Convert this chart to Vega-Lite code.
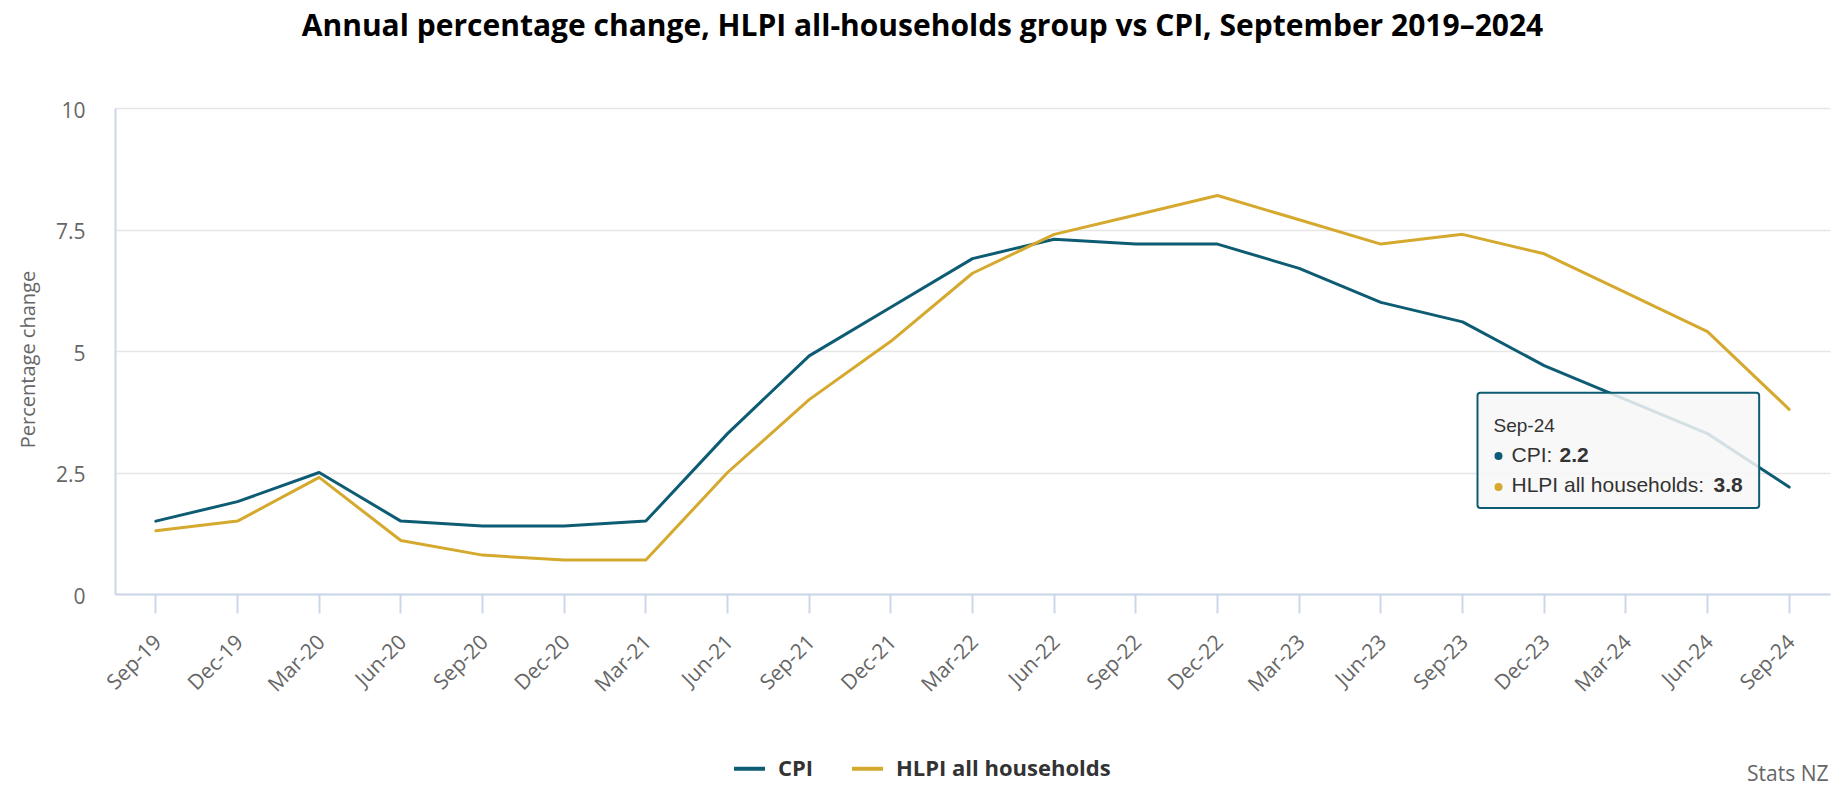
{
  "$schema": "https://vega.github.io/schema/vega-lite/v6.json",
  "autosize": {"type": "none"},
  "width": 1715,
  "height": 486,
  "padding": {"left": 115, "top": 108, "right": 16, "bottom": 196},
  "background": "white",
  "title": {
    "text": "Annual percentage change, HLPI all-households group vs CPI, September 2019–2024",
    "anchor": "middle",
    "frame": "group",
    "dx": -50,
    "offset": 58,
    "font": "Open Sans",
    "fontSize": 30,
    "fontWeight": "bold",
    "color": "#000000"
  },
  "datasets": {
    "series": [
      {"quarter": "Sep-19", "series": "CPI", "value": 1.5},
      {"quarter": "Dec-19", "series": "CPI", "value": 1.9},
      {"quarter": "Mar-20", "series": "CPI", "value": 2.5},
      {"quarter": "Jun-20", "series": "CPI", "value": 1.5},
      {"quarter": "Sep-20", "series": "CPI", "value": 1.4},
      {"quarter": "Dec-20", "series": "CPI", "value": 1.4},
      {"quarter": "Mar-21", "series": "CPI", "value": 1.5},
      {"quarter": "Jun-21", "series": "CPI", "value": 3.3},
      {"quarter": "Sep-21", "series": "CPI", "value": 4.9},
      {"quarter": "Dec-21", "series": "CPI", "value": 5.9},
      {"quarter": "Mar-22", "series": "CPI", "value": 6.9},
      {"quarter": "Jun-22", "series": "CPI", "value": 7.3},
      {"quarter": "Sep-22", "series": "CPI", "value": 7.2},
      {"quarter": "Dec-22", "series": "CPI", "value": 7.2},
      {"quarter": "Mar-23", "series": "CPI", "value": 6.7},
      {"quarter": "Jun-23", "series": "CPI", "value": 6.0},
      {"quarter": "Sep-23", "series": "CPI", "value": 5.6},
      {"quarter": "Dec-23", "series": "CPI", "value": 4.7},
      {"quarter": "Mar-24", "series": "CPI", "value": 4.0},
      {"quarter": "Jun-24", "series": "CPI", "value": 3.3},
      {"quarter": "Sep-24", "series": "CPI", "value": 2.2},
      {"quarter": "Sep-19", "series": "HLPI all households", "value": 1.3},
      {"quarter": "Dec-19", "series": "HLPI all households", "value": 1.5},
      {"quarter": "Mar-20", "series": "HLPI all households", "value": 2.4},
      {"quarter": "Jun-20", "series": "HLPI all households", "value": 1.1},
      {"quarter": "Sep-20", "series": "HLPI all households", "value": 0.8},
      {"quarter": "Dec-20", "series": "HLPI all households", "value": 0.7},
      {"quarter": "Mar-21", "series": "HLPI all households", "value": 0.7},
      {"quarter": "Jun-21", "series": "HLPI all households", "value": 2.5},
      {"quarter": "Sep-21", "series": "HLPI all households", "value": 4.0},
      {"quarter": "Dec-21", "series": "HLPI all households", "value": 5.2},
      {"quarter": "Mar-22", "series": "HLPI all households", "value": 6.6},
      {"quarter": "Jun-22", "series": "HLPI all households", "value": 7.4},
      {"quarter": "Sep-22", "series": "HLPI all households", "value": 7.8},
      {"quarter": "Dec-22", "series": "HLPI all households", "value": 8.2},
      {"quarter": "Mar-23", "series": "HLPI all households", "value": 7.7},
      {"quarter": "Jun-23", "series": "HLPI all households", "value": 7.2},
      {"quarter": "Sep-23", "series": "HLPI all households", "value": 7.4},
      {"quarter": "Dec-23", "series": "HLPI all households", "value": 7.0},
      {"quarter": "Mar-24", "series": "HLPI all households", "value": 6.2},
      {"quarter": "Jun-24", "series": "HLPI all households", "value": 5.4},
      {"quarter": "Sep-24", "series": "HLPI all households", "value": 3.8}
    ],
    "anchor": [{}]
  },
  "layer": [
    {
      "data": {"name": "series"},
      "mark": {"type": "line", "strokeWidth": 3, "strokeJoin": "round", "strokeCap": "round"},
      "encoding": {
        "x": {
          "field": "quarter",
          "type": "ordinal",
          "sort": null,
          "scale": {"domain": ["Sep-19","Dec-19","Mar-20","Jun-20","Sep-20","Dec-20","Mar-21","Jun-21","Sep-21","Dec-21","Mar-22","Jun-22","Sep-22","Dec-22","Mar-23","Jun-23","Sep-23","Dec-23","Mar-24","Jun-24","Sep-24"]},
          "axis": {
            "title": "Stats NZ",
            "titleX": 1713,
            "titleY": 186,
            "titleAlign": "right",
            "titleBaseline": "alphabetic",
            "titleFont": "Open Sans",
            "titleFontSize": 21,
            "titleFontWeight": "normal",
            "titleColor": "#666666",
            "labelAngle": -45,
            "labelAlign": "right",
            "labelBaseline": "top",
            "labelPadding": 18,
            "labelOffset": -5,
            "labelFont": "Open Sans",
            "labelFontSize": 21,
            "labelColor": "#666666",
            "domainColor": "#ccd6eb",
            "domainWidth": 2,
            "tickColor": "#ccd6eb",
            "tickWidth": 2,
            "tickSize": 19,
            "grid": false
          }
        },
        "y": {
          "field": "value",
          "type": "quantitative",
          "scale": {"domain": [0, 10], "nice": false},
          "axis": {
            "values": [0, 2.5, 5, 7.5, 10],
            "format": ".1~f",
            "title": "Percentage change",
            "titleX": -87,
            "titleY": 251,
            "titleAngle": -90,
            "titleAlign": "center",
            "titleBaseline": "middle",
            "titleFont": "Open Sans",
            "titleFontSize": 20,
            "titleFontWeight": "normal",
            "titleColor": "#666666",
            "labelFont": "Open Sans",
            "labelFontSize": 21,
            "labelColor": "#666666",
            "labelPadding": 30,
            "labelOffset": 3,
            "ticks": false,
            "domainColor": "#ccd6eb",
            "domainWidth": 2,
            "grid": true,
            "gridColor": "#e6e6e6",
            "gridWidth": 1.5
          }
        },
        "color": {
          "field": "series",
          "type": "nominal",
          "scale": {"domain": ["CPI", "HLPI all households"], "range": ["#0e5c73", "#d5a92e"]},
          "legend": {
            "title": null,
            "orient": "none",
            "direction": "horizontal",
            "legendX": 617,
            "legendY": 643,
            "symbolType": "stroke",
            "symbolSize": 961,
            "symbolStrokeWidth": 4,
            "labelFont": "Open Sans",
            "labelFontSize": 22,
            "labelFontWeight": "bold",
            "labelColor": "#333333",
            "labelOffset": 11,
            "labelLimit": 400,
            "columnPadding": 30,
            "padding": 0
          }
        }
      }
    },
    {
      "data": {"name": "anchor"},
      "mark": {"type": "rect", "fill": "#f7f7f7", "fillOpacity": 0.85, "stroke": "#0e5c73", "strokeWidth": 2, "cornerRadius": 3, "xOffset": 15, "x2Offset": -30},
      "encoding": {
        "x": {"datum": "Sep-23", "type": "ordinal"},
        "x2": {"datum": "Sep-24"},
        "y": {"datum": 4.14, "type": "quantitative"},
        "y2": {"datum": 1.77}
      }
    },
    {
      "data": {"name": "anchor"},
      "mark": {"type": "text", "text": "Sep-24", "align": "left", "baseline": "alphabetic", "dx": 31, "font": "Liberation Sans", "fontSize": 19, "color": "#333333"},
      "encoding": {"x": {"datum": "Sep-23", "type": "ordinal"}, "y": {"datum": 3.33, "type": "quantitative"}}
    },
    {
      "data": {"name": "anchor"},
      "mark": {"type": "point", "filled": true, "size": 64, "opacity": 1, "xOffset": 36, "fill": "#0e5c73"},
      "encoding": {"x": {"datum": "Sep-23", "type": "ordinal"}, "y": {"datum": 2.84, "type": "quantitative"}}
    },
    {
      "data": {"name": "anchor"},
      "mark": {"type": "point", "filled": true, "size": 64, "opacity": 1, "xOffset": 36, "fill": "#d5a92e"},
      "encoding": {"x": {"datum": "Sep-23", "type": "ordinal"}, "y": {"datum": 2.2, "type": "quantitative"}}
    },
    {
      "data": {"name": "anchor"},
      "mark": {"type": "text", "text": "CPI:", "align": "left", "baseline": "alphabetic", "dx": 49, "font": "Liberation Sans", "fontSize": 21, "color": "#333333"},
      "encoding": {"x": {"datum": "Sep-23", "type": "ordinal"}, "y": {"datum": 2.72, "type": "quantitative"}}
    },
    {
      "data": {"name": "anchor"},
      "mark": {"type": "text", "text": "2.2", "align": "left", "baseline": "alphabetic", "dx": 97, "font": "Liberation Sans", "fontSize": 21, "fontWeight": "bold", "color": "#333333"},
      "encoding": {"x": {"datum": "Sep-23", "type": "ordinal"}, "y": {"datum": 2.72, "type": "quantitative"}}
    },
    {
      "data": {"name": "anchor"},
      "mark": {"type": "text", "text": "HLPI all households:", "align": "left", "baseline": "alphabetic", "dx": 49, "font": "Liberation Sans", "fontSize": 21, "color": "#333333"},
      "encoding": {"x": {"datum": "Sep-23", "type": "ordinal"}, "y": {"datum": 2.1, "type": "quantitative"}}
    },
    {
      "data": {"name": "anchor"},
      "mark": {"type": "text", "text": "3.8", "align": "left", "baseline": "alphabetic", "dx": 251, "font": "Liberation Sans", "fontSize": 21, "fontWeight": "bold", "color": "#333333"},
      "encoding": {"x": {"datum": "Sep-23", "type": "ordinal"}, "y": {"datum": 2.1, "type": "quantitative"}}
    }
  ],
  "config": {"view": {"stroke": null}}
}
